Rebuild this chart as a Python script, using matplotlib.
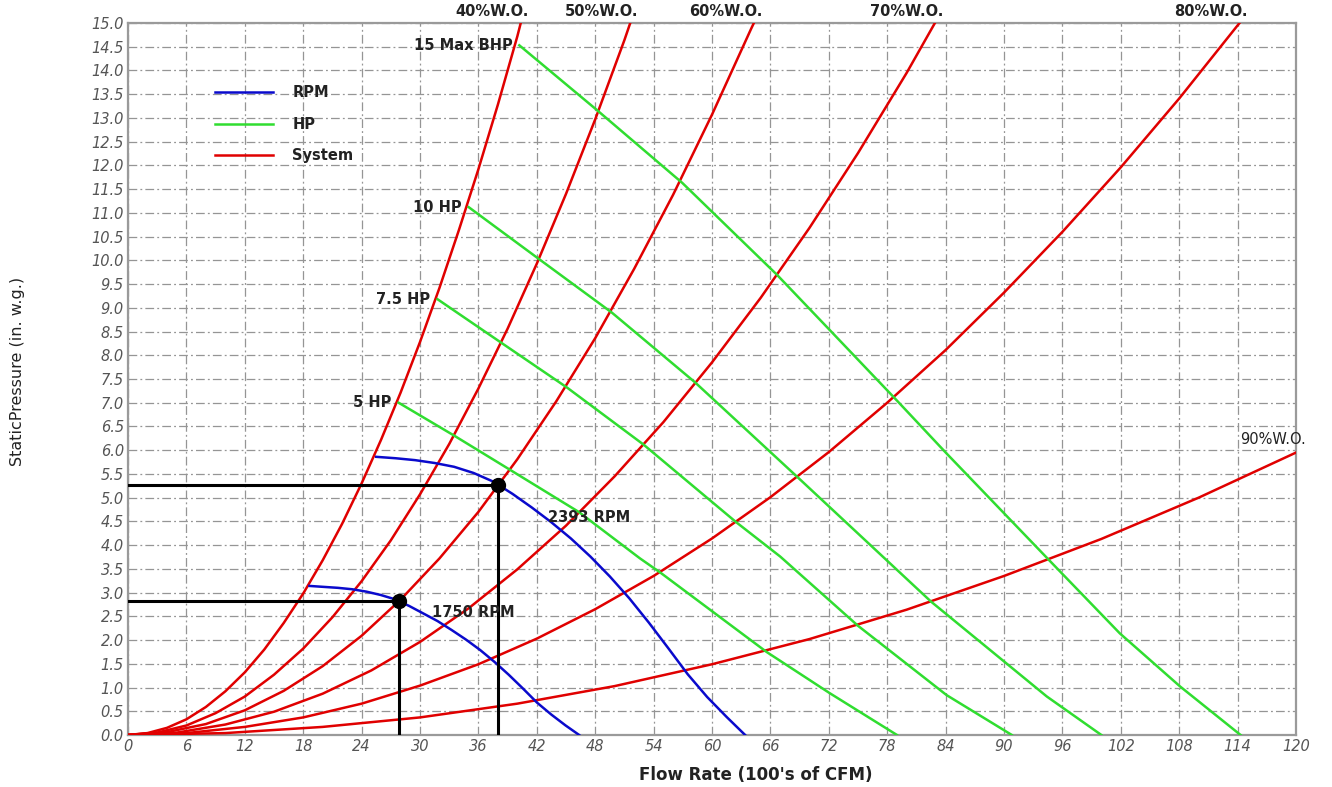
import matplotlib.pyplot as plt

# ---- system curves (% wide open) ----
sys_labels = ["40%W.O.", "50%W.O.", "60%W.O.", "70%W.O.", "80%W.O.", "90%W.O."]
sys_q = [
    [0, 2, 4, 6, 8, 10, 12, 14, 16, 18, 20, 22, 24, 26, 28, 30, 32, 34, 36, 38, 40, 40.35],
    [0, 3, 6, 9, 12, 15, 18, 21, 24, 27, 30, 33, 36, 39, 42, 45, 48, 51, 51.6],
    [0, 4, 8, 12, 16, 20, 24, 28, 32, 36, 40, 44, 48, 52, 56, 60, 64, 64.3],
    [0, 5, 10, 15, 20, 25, 30, 35, 40, 45, 50, 55, 60, 65, 70, 75, 80, 82.9],
    [0, 6, 12, 18, 24, 30, 36, 42, 48, 54, 60, 66, 72, 78, 84, 90, 96, 102, 108, 114, 114.2],
    [0, 10, 20, 30, 40, 50, 60, 70, 80, 90, 100, 110, 120],
]
sys_p = [
    [0, 0.04, 0.15, 0.33, 0.59, 0.92, 1.32, 1.80, 2.36, 2.98, 3.68, 4.45, 5.30, 6.22,
     7.21, 8.28, 9.42, 10.64, 11.92, 13.28, 14.72, 15.0],
    [0, 0.05, 0.20, 0.46, 0.81, 1.27, 1.82, 2.48, 3.24, 4.10, 5.07, 6.13, 7.30, 8.56,
     9.93, 11.40, 12.97, 14.64, 15.0],
    [0, 0.06, 0.23, 0.52, 0.93, 1.45, 2.09, 2.85, 3.72, 4.70, 5.81, 7.03, 8.36, 9.82,
     11.38, 13.07, 14.87, 15.0],
    [0, 0.05, 0.22, 0.49, 0.87, 1.36, 1.96, 2.67, 3.49, 4.41, 5.45, 6.59, 7.85, 9.21,
     10.68, 12.26, 13.95, 15.0],
    [0, 0.04, 0.17, 0.37, 0.66, 1.04, 1.49, 2.03, 2.65, 3.35, 4.14, 5.01, 5.96, 7.00,
     8.11, 9.32, 10.60, 11.96, 13.41, 14.95, 15.0],
    [0, 0.04, 0.17, 0.37, 0.66, 1.03, 1.49, 2.02, 2.64, 3.35, 4.13, 5.00, 5.95],
]

# ---- horsepower lines ----
hp_labels = ["5 HP", "7.5 HP", "10 HP", "15 Max BHP"]
hp_q = [
    [27.8, 33.4, 39.3, 46.3, 52.6, 54.7, 65.6, 72.1, 79.0],
    [31.8, 38.3, 45.1, 52.95, 62.5, 67.0, 75.0, 84.1, 90.8],
    [35.0, 42.2, 49.7, 58.25, 68.9, 82.5, 94.4, 100.0],
    [40.2, 48.15, 56.95, 66.65, 72.1, 78.7, 84.1, 94.6, 101.9, 108.1, 114.3],
]
hp_p = [
    [7.00, 6.32, 5.58, 4.70, 3.72, 3.42, 1.75, 0.88, 0.0],
    [9.18, 8.27, 7.32, 6.12, 4.48, 3.76, 2.30, 0.84, 0.0],
    [11.12, 10.03, 8.90, 7.43, 5.41, 2.81, 0.81, 0.0],
    [14.53, 13.17, 11.63, 9.70, 8.53, 7.11, 5.93, 3.69, 2.14, 1.02, 0.0],
]

# ---- fan curves ----
rpm_labels = ["1750 RPM", "2393 RPM"]
rpm_q = [
    [18.64, 20.10, 21.56, 23.03, 24.49, 25.95, 27.41, 28.87, 30.34, 31.80, 33.26,
     34.72, 36.18, 37.65, 39.11, 40.57, 42.03, 43.49, 44.96, 46.35],
    [25.5, 27.5, 29.5, 31.5, 33.5, 35.5, 37.5, 39.5, 41.5, 43.5, 45.5, 47.5, 49.5,
     51.5, 53.5, 55.5, 57.5, 59.5, 61.5, 63.4],
]
rpm_p = [
    [3.14, 3.12, 3.10, 3.07, 3.02, 2.95, 2.86, 2.72, 2.56, 2.40, 2.21, 2.01, 1.79,
     1.54, 1.27, 0.98, 0.68, 0.43, 0.20, 0.0],
    [5.86, 5.83, 5.79, 5.73, 5.65, 5.52, 5.34, 5.08, 4.79, 4.48, 4.14, 3.76, 3.34,
     2.88, 2.37, 1.83, 1.28, 0.80, 0.38, 0.0],
]
rpm_text_pos = [(31.2, 2.59), (43.15, 4.59)]

# operating points
op_q = [27.8, 38.0]
op_p = [2.82, 5.27]

RED = "#e00000"
GREEN = "#30dd30"
BLUE = "#0a0acc"

fig = plt.figure(figsize=(13.32, 7.87), dpi=100)
ax = fig.add_axes([0.0961, 0.0661, 0.8769, 0.9047])

for q, p in zip(sys_q, sys_p):
    ax.plot(q, p, color=RED, lw=1.8, zorder=3)
for q, p in zip(hp_q, hp_p):
    ax.plot(q, p, color=GREEN, lw=1.8, zorder=3)
for q, p in zip(rpm_q, rpm_p):
    ax.plot(q, p, color=BLUE, lw=1.8, zorder=3)

# legend proxies
ax.plot([], [], color=BLUE, lw=1.8, label="RPM")
ax.plot([], [], color=GREEN, lw=1.8, label="HP")
ax.plot([], [], color=RED, lw=1.8, label="System")

# operating point guide lines
for q, p in zip(op_q, op_p):
    ax.plot([0, q], [p, p], color="black", lw=2.2, zorder=4)
    ax.plot([q, q], [0, p], color="black", lw=2.2, zorder=4)
ax.plot(op_q, op_p, "o", color="black", ms=10, zorder=5)

# labels on curves
for i, lab in enumerate(sys_labels):
    if i < 5:
        ax.annotate(lab, (sys_q[i][-1], sys_p[i][-1]), xytext=(6, 3),
                    textcoords="offset points", ha="right", va="bottom",
                    fontsize=10.5, fontweight="bold", color="#222222",
                    annotation_clip=False)
    else:
        ax.annotate(lab, (sys_q[i][-1], sys_p[i][-1]), xytext=(7, 4),
                    textcoords="offset points", ha="right", va="bottom",
                    fontsize=10.5, color="#222222", annotation_clip=False)

for i, lab in enumerate(hp_labels):
    ax.annotate(lab, (hp_q[i][0], hp_p[i][0]), xytext=(-5, 0),
                textcoords="offset points", ha="right", va="center",
                fontsize=10.5, fontweight="bold", color="#222222")

for lab, (tx, ty) in zip(rpm_labels, rpm_text_pos):
    ax.text(tx, ty, lab, ha="left", va="center", fontsize=10.5,
            fontweight="bold", color="#222222", zorder=6)

ax.set_xlim(0, 120)
ax.set_ylim(0, 15)
ax.set_xticks(range(0, 121, 6))
ax.set_yticks([i * 0.5 for i in range(31)])
ax.set_yticklabels(["%.1f" % (i * 0.5) for i in range(31)])

ax.grid(True, color="#959595", lw=0.9, linestyle=(0, (7, 2.5, 1.5, 2.5)))
ax.set_axisbelow(True)
ax.tick_params(length=0, labelsize=10.5, labelcolor="#555555", pad=3)
for t in ax.get_xticklabels() + ax.get_yticklabels():
    t.set_fontstyle("italic")
for s in ax.spines.values():
    s.set_color("#9a9a9a")
    s.set_linewidth(1.6)

ax.set_xlabel("Flow Rate (100's of CFM)", fontsize=12, fontweight="bold",
              color="#222222")
ax.xaxis.set_label_coords(0.5377, -0.043)
ax.set_ylabel("StaticPressure (in. w.g.)", fontsize=11.5, color="#222222")
ax.yaxis.set_label_coords(-0.088, 0.51)

leg = ax.legend(loc="upper left", bbox_to_anchor=(0.0745, 0.913), frameon=False,
                borderpad=0, borderaxespad=0, handlelength=4.0,
                handletextpad=1.3, labelspacing=1.15,
                prop={"size": 10.5, "weight": "bold"})
for t in leg.get_texts():
    t.set_color("#222222")

fig.savefig("out.png", dpi=100)
